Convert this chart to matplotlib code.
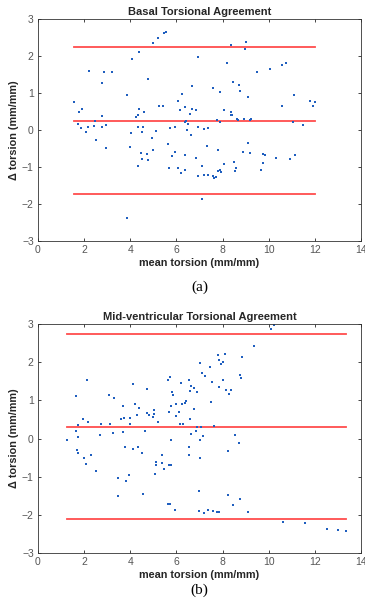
import matplotlib.pyplot as plt
import numpy as np

plt.rcParams['font.family'] = ['Liberation Sans', 'DejaVu Sans']

# Basal (a)
basal_mean = [1.55, 1.73, 1.80, 1.90, 1.87, 2.07, 2.22, 2.19, 2.43, 2.47, 2.50, 2.76, 2.79, 2.76,
              2.88, 2.95, 2.96, 3.19, 3.88, 4.00, 4.03, 4.09, 4.27, 4.35, 4.37, 4.39, 4.35, 4.55,
              4.52, 4.59, 4.78, 4.95, 4.98, 5.10, 5.19, 5.25, 5.41, 5.45, 5.54, 5.64, 5.71, 5.93,
              6.06, 6.16, 6.24, 6.37, 6.36, 6.42, 6.46, 6.50, 6.58, 6.63, 6.68, 6.69, 6.83, 6.93,
              6.95, 7.18, 7.32, 7.37, 7.60, 7.78, 7.87, 7.87, 8.06, 8.19, 8.35, 8.37, 8.35, 8.40,
              8.47, 8.63, 8.66, 8.73, 8.76, 8.94, 8.99, 9.02, 9.12, 9.17, 9.24, 9.12, 9.50, 10.06,
              10.56, 10.58, 10.75, 11.04, 11.11, 11.50, 11.78, 11.93, 11.99,
              4.47, 4.53, 4.71, 4.78, 4.32, 4.99, 5.83, 5.96, 5.70, 6.08, 6.19, 6.36, 6.39, 6.86,
              6.95, 7.12, 7.18, 7.38, 7.58, 7.65, 7.73, 7.79, 7.79, 7.87, 7.94, 8.06, 8.49, 8.52,
              8.60, 8.88, 9.18, 9.67, 9.74, 9.83, 9.76, 10.32, 10.94, 11.15, 7.12, 3.88]
basal_diff = [0.77, 0.15, 0.50, 0.57, 0.05, -0.05, 1.59, 0.09, 0.11, 0.25, -0.28, 1.28, 0.39, 0.09,
              1.58, 0.14, -0.49, 1.56, 0.95, -0.46, -0.07, 1.92, 0.36, 0.41, 0.57, 2.12, 0.09, 0.07,
              -0.05, 0.50, 1.39, -0.22, 2.36, -0.04, 2.48, 0.65, 0.65, 2.61, 2.64, -0.38, 0.05, 0.07,
              0.79, 0.54, 0.98, 0.63, 0.21, 0.25, 0.00, 0.17, 0.43, -0.14, 1.18, 0.56, 0.54, 1.97,
              0.07, 0.03, -0.43, 0.05, 1.14, 0.27, 1.03, 0.23, 0.54, 1.80, 2.29, 0.49, 0.41, 0.41,
              1.31, 0.30, 0.27, 1.22, 1.05, 0.30, 2.19, 2.37, 0.88, 0.27, 0.29, -0.34, 1.56, 1.66,
              0.65, 1.77, 1.80, 0.22, 0.95, 0.13, 0.79, 0.65, 0.77,
              -0.61, -0.78, -0.65, -0.82, -0.96, -0.54, -0.69, -0.60, -1.04, -1.04, -1.15, -1.07, -0.68, -0.75,
              -1.25, -0.97, -1.21, -1.22, -1.23, -1.30, -1.28, -0.54, -1.11, -1.07, -1.14, -0.93, -0.86, -1.11,
              -1.04, -0.59, -0.63, -1.09, -0.65, -0.67, -0.89, -0.76, -0.78, -0.68, -1.86, -2.38]
basal_lines = [2.24, 0.25, -1.73]
basal_span = [1.55, 12.0]

# Mid-ventricular (b)
mid_mean = [1.24, 1.64, 1.67, 1.73, 1.73, 1.96, 2.14, 2.16, 2.71, 2.73, 3.08, 3.14, 3.24, 3.28,
            3.60, 3.67, 3.68, 3.73, 3.99, 4.01, 4.13, 4.20, 4.30, 4.36, 4.65, 4.73, 4.72, 4.82,
            4.98, 5.04, 5.02, 5.21, 5.64, 5.73, 5.68, 5.78, 5.78, 5.81, 5.84, 5.97, 6.00, 6.12,
            6.14, 6.19, 6.26, 6.30, 6.36, 6.43, 6.56, 6.57, 6.60, 6.62, 6.63, 6.75, 6.78, 6.86,
            6.88, 6.91, 7.02, 7.04, 7.08, 7.11, 7.17, 7.25, 7.45, 7.51, 7.53, 7.61, 7.82, 7.83,
            7.86, 7.95, 8.01, 8.03, 8.09, 8.16, 8.27, 8.37, 8.52, 8.71, 8.76, 8.82, 8.86, 9.35,
            10.10, 10.23,
            1.69, 1.73, 2.01, 2.08, 2.29, 2.53, 3.47, 3.48, 3.78, 3.80, 3.96, 4.11, 4.35, 4.50,
            4.57, 5.06, 5.11, 5.13, 5.36, 5.36, 5.48, 5.67, 5.77, 5.65, 5.71, 5.94, 6.53, 6.56,
            7.04, 6.96, 6.99, 7.18, 7.38, 7.57, 7.74, 7.83, 8.23, 8.23, 8.45, 8.75, 9.09, 10.60,
            11.58, 12.52, 12.99, 13.34]
mid_diff = [-0.03, 0.20, 1.10, 0.34, 0.03, 0.50, 1.52, 0.43, 0.09, 0.39, 1.13, 0.39, 0.15, 1.07,
            0.51, 0.86, 0.18, 0.54, 0.37, 0.53, 1.43, 0.89, 0.61, 0.81, 0.19, 1.29, 0.67, 0.62,
            0.57, 0.74, 0.65, 0.44, 1.53, 1.60, 0.69, 0.85, -0.05, 1.22, 1.15, 0.60, 0.91, 0.69,
            0.37, 1.45, 0.90, 0.37, 0.94, 0.98, 1.53, 1.25, 0.51, 0.12, 1.36, 1.32, 0.78, 0.20,
            1.21, 0.31, 1.97, -0.05, 0.29, 1.72, 0.07, 1.64, 1.86, 0.95, 1.47, 0.33, 2.17, 1.35,
            2.04, 1.94, 2.01, 1.53, 2.21, 1.26, 1.17, 1.28, 0.10, -0.12, 1.65, 1.57, 2.12, 2.41,
            2.85, 2.98,
            -0.30, -0.39, -0.50, -0.67, -0.42, -0.86, -1.02, -1.49, -0.22, -1.12, -0.95, -0.28, -0.23, -0.38,
            -1.45, -0.93, -0.61, -0.70, -0.42, -0.63, -0.81, -0.70, -0.70, -1.70, -1.70, -1.88, -0.43, -0.23,
            -0.52, -1.37, -1.90, -1.95, -1.86, -1.90, -1.91, -1.91, -0.33, -1.47, -1.74, -1.59, -1.93, -2.17,
            -2.21, -2.36, -2.38, -2.43]
mid_lines = [2.74, 0.31, -2.10]
mid_span = [1.24, 13.34]

xticks = [0, 2, 4, 6, 8, 10, 12, 14]
yticks = [-3, -2, -1, 0, 1, 2, 3]

fig = plt.figure(figsize=(3.65, 6.04), dpi=100)
ax1 = fig.add_axes([0.104, 0.601, 0.885, 0.3675])
ax2 = fig.add_axes([0.104, 0.084, 0.885, 0.380])

panels = [
    (ax1, basal_mean, basal_diff, basal_lines, basal_span, 'Basal Torsional Agreement', '(a)', -0.207),
    (ax2, mid_mean, mid_diff, mid_lines, mid_span, 'Mid-ventricular Torsional Agreement', '(b)', -0.162),
]

for ax, xm, yd, lines, span, title, tag, tag_y in panels:
    for v in lines:
        ax.plot(span, [v, v], color='#ff4d4d', lw=1.3)
    ax.plot(xm, yd, 's', color='#1f5fbf', markersize=2.0, markeredgewidth=0)
    ax.set_xlim(0, 14)
    ax.set_ylim(-3, 3)
    ax.set_xticks(xticks)
    ax.set_yticks(yticks)
    ax.tick_params(direction='in', top=True, right=True, length=2.5, width=0.6,
                   labelsize=7.5, colors='#262626', labelcolor='#555555', pad=3)
    for s in ax.spines.values():
        s.set_color('#333333')
        s.set_linewidth(0.6)
    ax.set_title(title, fontsize=8, fontweight='bold', color='#262626', pad=3)
    ax.set_xlabel('mean torsion (mm/mm)', fontsize=7.8, fontweight='bold', color='#262626', labelpad=2)
    ax.set_ylabel('\u0394 torsion (mm/mm)', fontsize=7.8, fontweight='bold', color='#262626', labelpad=2)
    ax.text(0.5, tag_y, tag, transform=ax.transAxes, ha='center', va='center',
            fontsize=11, family='Liberation Serif')

fig.savefig('out.png', dpi=100)
